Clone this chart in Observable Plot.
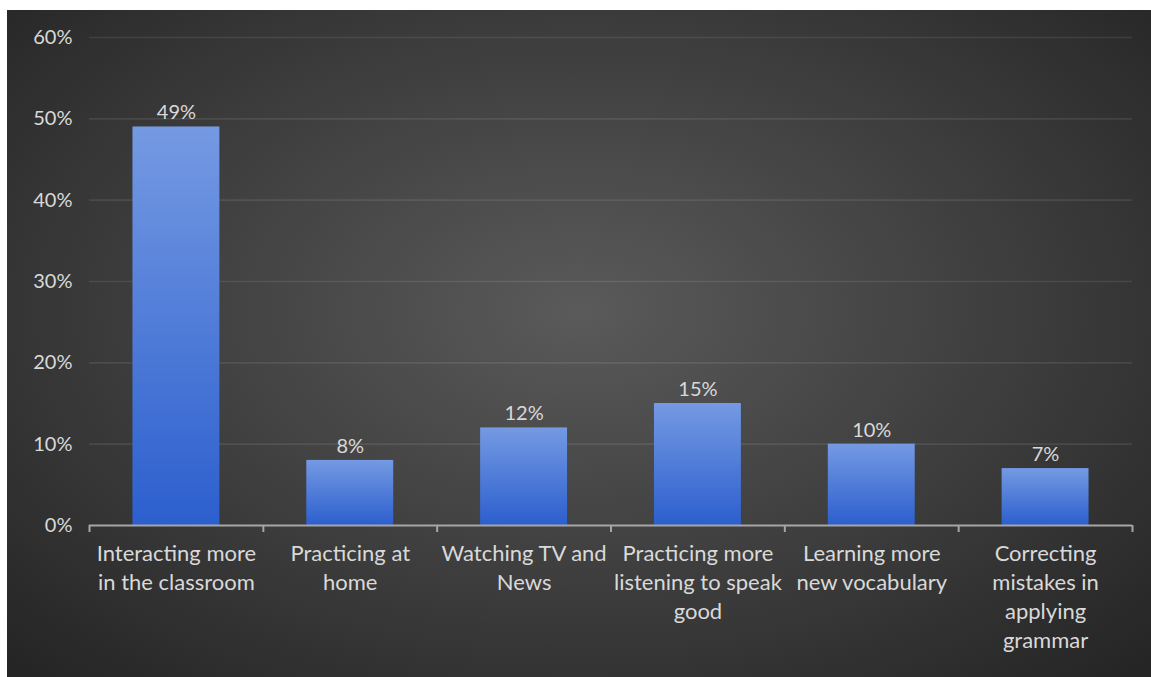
<!DOCTYPE html>
<html>
<head>
<meta charset="utf-8">
<script src="https://cdn.jsdelivr.net/npm/d3@7"></script>
<script src="https://cdn.jsdelivr.net/npm/@observablehq/plot@0.6"></script>
<style>
  html, body { margin: 0; padding: 0; background: #ffffff; }
  #panel {
    position: absolute; left: 7px; top: 10px; width: 1144px; height: 667px;
    background: radial-gradient(ellipse 70% 75% at 50% 45%, #5a5a5a 0%, #3d3d3d 55%, #252525 100%);
  }
</style>
</head>
<body>
<div id="panel"></div>
<script>
const categories = [
  "Interacting more\nin the classroom",
  "Practicing at\nhome",
  "Watching TV and\nNews",
  "Practicing more\nlistening to speak\ngood",
  "Learning more\nnew vocabulary",
  "Correcting\nmistakes in\napplying\ngrammar"
];
const values = [0.49, 0.08, 0.12, 0.15, 0.10, 0.07];
const yTicks = [0, 0.1, 0.2, 0.3, 0.4, 0.5, 0.6];

const data = categories.map((c, i) => ({category: c, value: values[i]}));

const W = 1144, H = 667, mL = 82, mR = 19, mT = 27, mB = 152;
const step = (W - mL - mR) / categories.length;
const textColor = "#d9d9d9";

const gradient = () => {
  const defs = d3.create("svg:defs");
  const g = defs.append("linearGradient").attr("id", "barGrad")
    .attr("x1", 0).attr("y1", 0).attr("x2", 0).attr("y2", 1);
  g.append("stop").attr("offset", "0%").attr("stop-color", "#759ae3");
  g.append("stop").attr("offset", "100%").attr("stop-color", "#2c5fce");
  return defs.node();
};

const chart = Plot.plot({
  width: W, height: H,
  marginLeft: mL, marginRight: mR, marginTop: mT, marginBottom: mB,
  style: {background: "transparent", color: textColor, fontFamily: "Lato, 'Open Sans', sans-serif", fontSize: "20px"},
  x: {domain: categories, paddingInner: 0.5, paddingOuter: 0.25, round: false, label: null},
  y: {domain: [0, 0.6], label: null},
  marks: [
    gradient,
    Plot.gridY(yTicks.filter(d => d > 0), {stroke: "#ffffff", strokeOpacity: 0.09, strokeWidth: 1.6}),
    Plot.barY(data, {x: "category", y: "value", fill: "url(#barGrad)"}),
    Plot.ruleY([0], {stroke: "#a6a6a6", strokeWidth: 2}),
    Plot.axisX({tickSize: 7, dx: -step / 2, text: null, stroke: "#a6a6a6", strokeWidth: 2}),
    Plot.axisX([categories[categories.length - 1]], {tickSize: 7, dx: step / 2, text: null, stroke: "#a6a6a6", strokeWidth: 2}),
    Plot.axisX({tickSize: 0, tickPadding: 15, lineHeight: 1.32, fontSize: 22, fill: textColor}),
    Plot.axisY({ticks: yTicks, tickFormat: d3.format(".0%"), tickSize: 0, tickPadding: 17, fontSize: 20, fill: textColor}),
    Plot.text(data, {x: "category", y: "value", text: d => d3.format(".0%")(d.value), dy: -14, fontSize: 20, fill: textColor})
  ]
});
document.getElementById("panel").appendChild(chart);
</script>
</body>
</html>
